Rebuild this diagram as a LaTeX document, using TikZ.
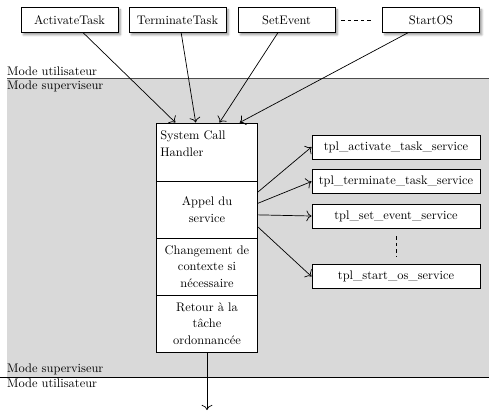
\documentclass[tikz,border=0pt]{standalone}
\usetikzlibrary{shadows.blur,arrows.meta}

\tikzset{
  every node/.style={font=\fontsize{10.6pt}{14pt}\selectfont},
  callbox/.style={draw, thick, fill=white, minimum width=2.91cm, minimum height=0.75cm,
    blur shadow={shadow xshift=2pt, shadow yshift=-2pt, shadow blur steps=6}},
  stackbox/.style={draw, thick, fill=white, minimum width=3cm, minimum height=1.71cm,
    text width=2.8cm, align=center, execute at begin node=\setlength{\baselineskip}{14pt}},
  svcbox/.style={draw, thick, fill=white, minimum width=5.04cm, minimum height=0.72cm},
  modelabel/.style={anchor=base west, inner sep=0pt},
}

\begin{document}
\begin{tikzpicture}[x=0.03cm, y=-0.03cm, >={To[scale=1.5]}]

    \useasboundingbox (0,0) rectangle (489,413);

    % supervisor area
    \fill[black!15] (7,78) rectangle (489,377);
    \draw[black!70, thick] (7,78) -- (489,78);
    \draw[semithick] (0,377) -- (489,377);

    % mode labels
    \node[modelabel] (mu1) at (7,75) {Mode utilisateur};
    \node[modelabel] (ms1) at (7,89) {Mode superviseur};
    \node[modelabel] (ms2) at (7,372.5) {Mode superviseur};
    \node[modelabel] (mu2) at (7,387) {Mode utilisateur};

    % system calls
    \node[callbox] (act) at (69.5,20) {ActivateTask};
    \node[callbox] (term) at (177.5,20) {TerminateTask};
    \node[callbox] (setev) at (286.5,20) {SetEvent};
    \node[callbox] (start) at (431,20) {StartOS};
    \draw[semithick, dash pattern=on 3pt off 2.5pt, shorten <=0.18cm, shorten >=0.33cm] (setev) -- (start);

    % handler stack
    \node[stackbox, minimum height=1.74cm] (sch) at (207,152)
      {\parbox[c][1.5cm][t]{2.8cm}{\setlength{\baselineskip}{14.5pt}\vspace*{3pt}System Call\\Handler}};
    \node[stackbox] (appel) at (207,209.5) {Appel du\\service};
    \node[stackbox] (chg) at (207,266.5) {Changement de\\contexte si\\nécessaire};
    \node[stackbox] (ret) at (207,323.5) {Retour à la\\tâche\\ordonnancée};
    \coordinate (out) at (207,410);

    % services
    \node[svcbox] (sact) at (396,147) {tpl\_activate\_task\_service};
    \node[svcbox] (sterm) at (396,181.5) {tpl\_terminate\_task\_service};
    \node[svcbox] (sset) at (396,216) {tpl\_set\_event\_service};
    \node[svcbox] (sstart) at (396,276.5) {tpl\_start\_os\_service};
    \draw[semithick, dash pattern=on 3pt off 2.5pt, shorten <=0.24cm, shorten >=0.21cm] (sset) -- (sstart);

    % arrows
    \draw[semithick, ->] (act.-43) -- (sch.137);
    \draw[semithick, ->] (term.-74) -- (sch.111);
    \draw[semithick, ->] (setev.-124) -- (sch.67);
    \draw[semithick, ->] (start.-151) -- (sch.42);

    \draw[semithick, ->] (appel.19) -- (sact.west);
    \draw[semithick, ->] (appel.7) -- (sterm.west);
    \draw[semithick, ->] (appel.-6) -- (sset.west);
    \draw[semithick, ->] (appel.-19) -- (sstart.west);

    \draw[semithick, ->] (ret.south) -- (out);
\end{tikzpicture}
\end{document}
